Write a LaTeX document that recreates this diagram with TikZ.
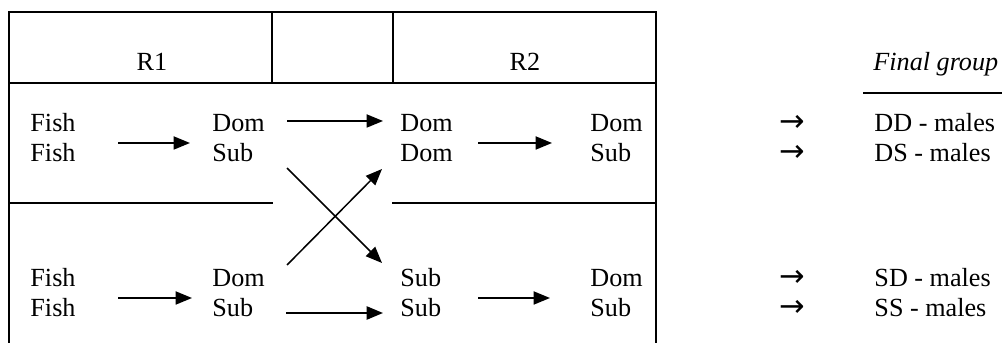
\documentclass[tikz,border=0pt]{standalone}
\usepackage{fontspec}
\setmainfont{Liberation Serif}
\newfontfamily\arrowfont{DejaVu Sans}
\usetikzlibrary{arrows.meta}
\begin{document}
\begin{tikzpicture}[x=0.4587pt,y=-0.4587pt,
  frame/.style={line width=0.75pt},
  lbl/.style={anchor=base west,inner sep=0pt,font=\fontsize{12pt}{14pt}\selectfont},
  hdr/.style={anchor=base,inner sep=0pt,font=\fontsize{12pt}{14pt}\selectfont},
  flow/.style={line width=0.7pt,-{Triangle[length=7.5pt,width=6pt]}},
  res/.style={anchor=base west,inner sep=0pt,font=\arrowfont\fontsize{14pt}{16pt}\selectfont}]
\useasboundingbox (0,0) rectangle (1002,343);
% table frame
\draw[frame] (9,360) -- (9,12) -- (656,12) -- (656,360);
\draw[frame] (9,83) -- (656,83);
\draw[frame] (272,12) -- (272,83);
\draw[frame] (393,12) -- (393,83);
\draw[frame] (9,203) -- (273,203);
\draw[frame] (392,203) -- (656,203);
% headers
\node[hdr] (r1) at (152,71) {R1};
\node[hdr] (r2) at (525,71) {R2};
\node[lbl,font=\fontsize{12pt}{14pt}\selectfont\itshape] (fg) at (873,71) {Final group};
\draw[frame] (863,93) -- (1002,93);
% upper block
\node[lbl] (f1) at (30,132) {Fish};
\node[lbl] (f2) at (30,162) {Fish};
\node[lbl] (d1) at (212,132) {Dom};
\node[lbl] (s1) at (212,162) {Sub};
\node[lbl] (d2) at (400,132) {Dom};
\node[lbl] (d3) at (400,162) {Dom};
\node[lbl] (d4) at (590,132) {Dom};
\node[lbl] (s4) at (590,162) {Sub};
% lower block
\node[lbl] (f3) at (30,287) {Fish};
\node[lbl] (f4) at (30,317) {Fish};
\node[lbl] (d5) at (212,287) {Dom};
\node[lbl] (s5) at (212,317) {Sub};
\node[lbl] (s6) at (400,287) {Sub};
\node[lbl] (s7) at (400,317) {Sub};
\node[lbl] (d8) at (590,287) {Dom};
\node[lbl] (s8) at (590,317) {Sub};
% final groups
\node[res] (ar1) at (779,132) {→};
\node[res] (ar2) at (779,162) {→};
\node[res] (ar3) at (779,287) {→};
\node[res] (ar4) at (779,317) {→};
\node[lbl] (g1) at (874,132) {DD - males};
\node[lbl] (g2) at (874,162) {DS - males};
\node[lbl] (g3) at (874,287) {SD - males};
\node[lbl] (g4) at (874,317) {SS - males};
% arrow end points
\coordinate (a1s) at (118,143); \coordinate (a1e) at (190,143);
\coordinate (a2s) at (287,121); \coordinate (a2e) at (383,121);
\coordinate (a3s) at (478,143); \coordinate (a3e) at (552,143);
\coordinate (a4s) at (118,298); \coordinate (a4e) at (192,298);
\coordinate (a5s) at (478,298); \coordinate (a5e) at (550,298);
\coordinate (a6s) at (286,313); \coordinate (a6e) at (383,313);
\coordinate (c1s) at (287,168); \coordinate (c1e) at (382,263);
\coordinate (c2s) at (287,265); \coordinate (c2e) at (382,169);
\draw[flow] (a1s) -- (a1e);
\draw[flow] (a2s) -- (a2e);
\draw[flow] (a3s) -- (a3e);
\draw[flow] (a4s) -- (a4e);
\draw[flow] (a5s) -- (a5e);
\draw[flow,line width=1pt] (a6s) -- (a6e);
\draw[flow] (c1s) -- (c1e);
\draw[flow] (c2s) -- (c2e);
\end{tikzpicture}
\end{document}
